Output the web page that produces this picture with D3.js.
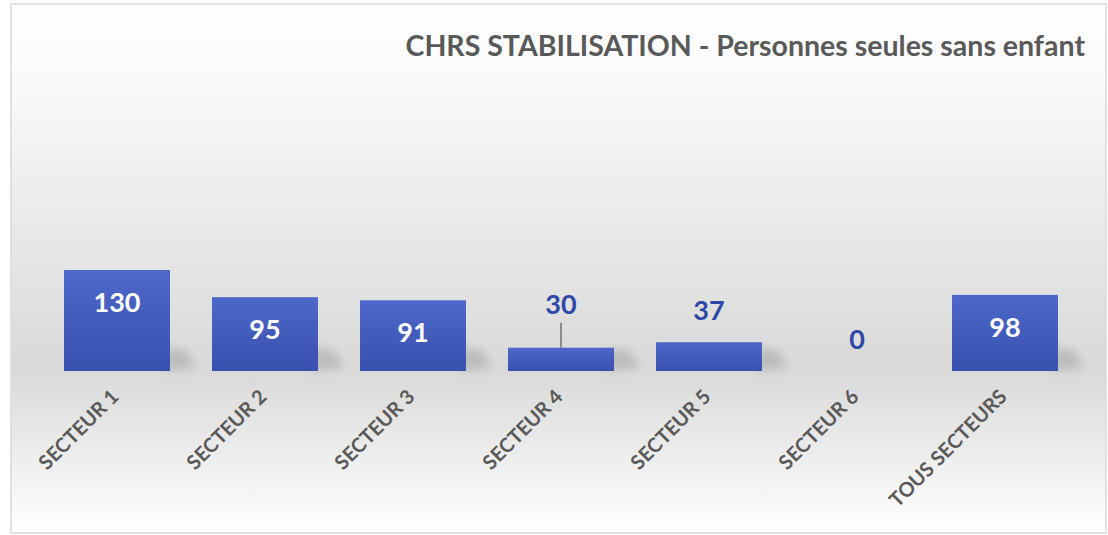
<!DOCTYPE html>
<html><head><meta charset="utf-8">
<script src="https://cdn.jsdelivr.net/npm/d3@7"></script>
<style>html,body{margin:0;padding:0;background:#fff;}svg{display:block;}</style>
</head><body>
<script>
const categories = ["SECTEUR 1","SECTEUR 2","SECTEUR 3","SECTEUR 4","SECTEUR 5","SECTEUR 6","TOUS SECTEURS"];
const values = [130, 95, 91, 30, 37, 0, 98];
const title = "CHRS STABILISATION - Personnes seules sans enfant";

const W = 1108, H = 535;
const svg = d3.select("body").append("svg").attr("width", W).attr("height", H);
const defs = svg.append("defs");

const bg = defs.append("linearGradient").attr("id","bg").attr("x1",0).attr("y1",0).attr("x2",0).attr("y2",1);
[[0,"#ffffff"],[0.12,"#fbfbfb"],[0.69,"#d9d9d9"],[1,"#ffffff"]].forEach(([o,c])=>bg.append("stop").attr("offset",o).attr("stop-color",c));
const bar = defs.append("linearGradient").attr("id","bar").attr("x1",0).attr("y1",0).attr("x2",0).attr("y2",1);
[[0,"#4d68c9"],[1,"#3850ae"]].forEach(([o,c])=>bar.append("stop").attr("offset",o).attr("stop-color",c));
defs.append("filter").attr("id","blur").attr("x","-50%").attr("y","-50%").attr("width","200%").attr("height","200%")
  .append("feGaussianBlur").attr("stdDeviation",4);

svg.append("rect").attr("x",11).attr("y",4).attr("width",1095).attr("height",529)
  .attr("fill","url(#bg)").attr("stroke","#d9d9d9").attr("stroke-width",1.5);

const x = d3.scaleBand().domain(categories).range([43,1079]).paddingInner(0.284).paddingOuter(0.142);
const y = d3.scaleLinear().domain([0,350]).range([371,99]);

const g = svg.append("g");
// shadows
g.selectAll(".sh").data(values.map((v,i)=>({v,c:categories[i]})).filter(d=>d.v>0)).join("path")
  .attr("fill","#000").attr("opacity",0.13).attr("filter","url(#blur)")
  .attr("d", d=>{
    const xr = x(d.c)+x.bandwidth();
    const top = Math.max(y(d.v), y(0)-24);
    const b = y(0);
    return `M${xr-6},${b} L${xr-6},${top} L${xr+16},${top+3} L${xr+26},${b-3} Z`;
  });
// bars
g.selectAll(".bar").data(values.map((v,i)=>({v,c:categories[i]}))).join("rect")
  .attr("x",d=>x(d.c)).attr("width",x.bandwidth())
  .attr("y",d=>y(d.v)).attr("height",d=>y(0)-y(d.v))
  .attr("fill","url(#bar)");

const font = "Lato, 'Open Sans', sans-serif";
const fs = 27;
// value labels
values.forEach((v,i)=>{
  const c = categories[i];
  const cx = x(c)+x.bandwidth()/2;
  const h = y(0)-y(v);
  if (h > 50) {
    g.append("text").attr("x",cx).attr("y",y(v)+42).attr("text-anchor","middle")
      .attr("font-family",font).attr("font-weight","bold").attr("font-size",fs).attr("fill","#fff").text(v);
  } else if (v === 30) {
    g.append("line").attr("x1",cx).attr("x2",cx).attr("y1",y(v)-25).attr("y2",y(v)).attr("stroke","#8c8c8c").attr("stroke-width",2);
    g.append("text").attr("x",cx).attr("y",y(v)-34).attr("text-anchor","middle")
      .attr("font-family",font).attr("font-weight","bold").attr("font-size",fs).attr("fill","#2f48a6").text(v);
  } else {
    g.append("text").attr("x",cx).attr("y",y(v)-22).attr("text-anchor","middle")
      .attr("font-family",font).attr("font-weight","bold").attr("font-size",fs).attr("fill","#2f48a6").text(v);
  }
});

// axis labels
const ax = svg.append("g").attr("transform",`translate(0,${y(0)})`).call(d3.axisBottom(x).tickSize(0).tickPadding(0));
ax.select(".domain").remove();
ax.selectAll(".tick text")
  .attr("font-family",font).attr("font-weight","bold").attr("font-size",20).attr("fill","#595959")
  .attr("text-anchor","end").attr("dy",0).attr("y",0)
  .attr("transform","translate(3,27) rotate(-45)");

svg.append("text").attr("x",1085).attr("y",56).attr("text-anchor","end")
  .attr("font-family",font).attr("font-weight","bold").attr("font-size",28.5).attr("fill","#595959").text(title);
</script>
</body></html>
